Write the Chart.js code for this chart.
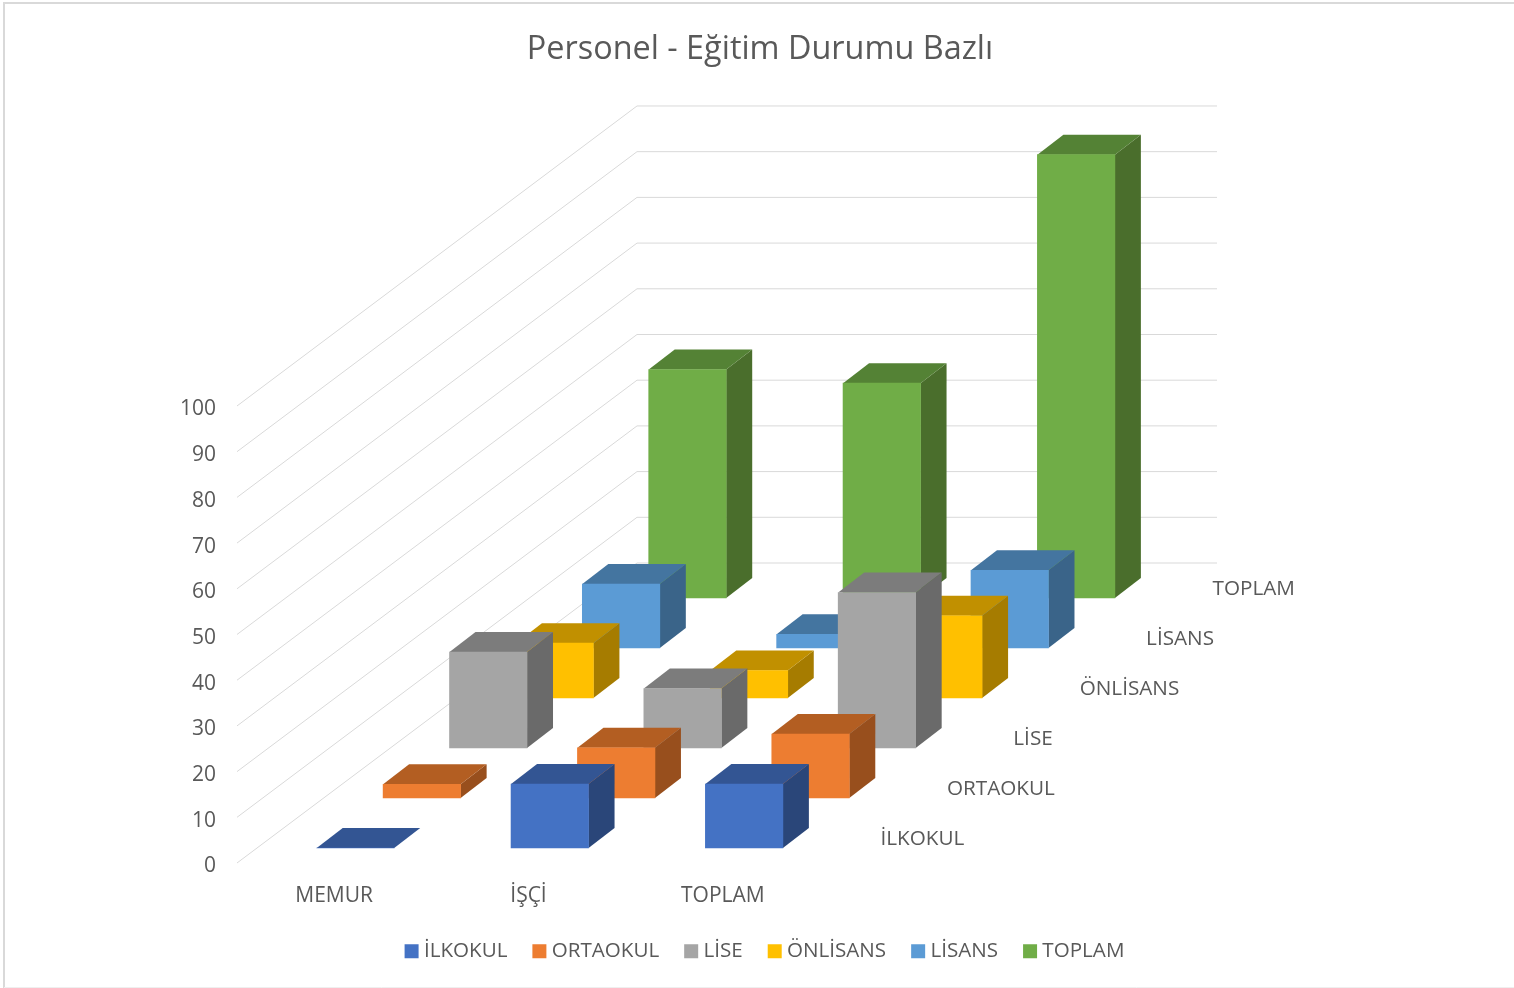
<!DOCTYPE html>
<html lang="tr">
<head>
<meta charset="utf-8">
<title>Personel - Eğitim Durumu Bazlı</title>
<style>html,body{margin:0;padding:0;background:#fff}canvas{display:block}</style>
<script src="https://cdn.jsdelivr.net/npm/chart.js@4"></script>
</head>
<body>
<canvas id="c" width="1514" height="988"></canvas>
<script>
const categories = ['MEMUR', 'İŞÇİ', 'TOPLAM'];
const ilkokul  = [0, 14, 14];
const ortaokul = [3, 11, 14];
const lise     = [21, 13, 34];
const onlisans = [12, 6, 18];
const lisans   = [14, 3, 17];
const toplam   = [50, 47, 97];
const yTicks   = [0, 10, 20, 30, 40, 50, 60, 70, 80, 90, 100];

const FONT = '"Open Sans", "Noto Sans", sans-serif';
const TEXT = '#595959';
const GRID = '#D9D9D9';

// oblique projection
const ROW0 = {x: 21.3, y: 15};     // first row's offset from the floor's front edge
const ROW  = {x: 66.4, y: 50};     // offset between rows
const CUBE = {x: 26, y: 20};       // depth of every bar
const WALL = {x: 400, y: 300, w: 580};
const NAME_X = 880.5, NAME_Y = 839.5; // first depth-axis label

function ds(label, data, front, top, side) {
  return {label, data, backgroundColor: front, topColor: top, sideColor: side,
          borderWidth: 0, grouped: false, barThickness: 77.5, clip: false};
}

const view3d = {
  id: 'view3d',
  afterLayout(chart) {
    chart.titleBlock.left += 3; chart.titleBlock.right += 3;
    chart.legend.left += 10; chart.legend.right += 10;
  },
  beforeDatasetsDraw(chart) {
    const {ctx, scales: {y}, chartArea: a} = chart;
    ctx.save();
    ctx.strokeStyle = GRID; ctx.lineWidth = 1;
    y.ticks.forEach(t => {
      const py = y.getPixelForValue(t.value);
      ctx.beginPath();
      ctx.moveTo(a.left, py);
      ctx.lineTo(a.left + WALL.x, py - WALL.y);
      ctx.lineTo(a.left + WALL.x + WALL.w, py - WALL.y);
      ctx.stroke();
    });
    // frame of the picture
    ctx.strokeStyle = '#D9D9D9'; ctx.lineWidth = 2;
    ctx.beginPath(); ctx.moveTo(4, 988); ctx.lineTo(4, 3); ctx.lineTo(1514, 3); ctx.stroke();
    ctx.strokeStyle = '#EFEFEF'; ctx.lineWidth = 1;
    ctx.beginPath(); ctx.moveTo(4, 987.5); ctx.lineTo(1514, 987.5); ctx.stroke();
    // depth-axis labels
    ctx.fillStyle = TEXT; ctx.font = '20.7px ' + FONT;
    ctx.textAlign = 'left'; ctx.textBaseline = 'middle';
    chart.data.datasets.forEach((d, i) => {
      ctx.fillText(d.label, NAME_X + i * ROW.x, NAME_Y - i * ROW.y);
    });
    ctx.restore();
  },
  beforeDatasetDraw(chart, args) {
    const {ctx} = chart, i = args.index, d = chart.data.datasets[i];
    ctx.save();
    ctx.translate(ROW0.x + i * ROW.x, -(ROW0.y + i * ROW.y));
    args.meta.data.forEach(b => {
      const l = b.x - b.width / 2, r = b.x + b.width / 2, t = b.y, f = b.base;
      ctx.fillStyle = d.sideColor;
      ctx.beginPath();
      ctx.moveTo(r, t); ctx.lineTo(r + CUBE.x, t - CUBE.y);
      ctx.lineTo(r + CUBE.x, f - CUBE.y); ctx.lineTo(r, f);
      ctx.closePath(); ctx.fill();
      ctx.fillStyle = d.topColor;
      ctx.beginPath();
      ctx.moveTo(l, t); ctx.lineTo(r, t);
      ctx.lineTo(r + CUBE.x, t - CUBE.y); ctx.lineTo(l + CUBE.x, t - CUBE.y);
      ctx.closePath(); ctx.fill();
    });
  },
  afterDatasetDraw(chart) { chart.ctx.restore(); }
};

new Chart(document.getElementById('c'), {
  type: 'bar',
  plugins: [view3d],
  data: {
    labels: categories,
    datasets: [
      ds('İLKOKUL',  ilkokul,  '#4472C4', '#335593', '#2A4679'),
      ds('ORTAOKUL', ortaokul, '#ED7D31', '#B35E22', '#984F1D'),
      ds('LİSE',     lise,     '#A5A5A5', '#7C7C7C', '#6A6A6A'),
      ds('ÖNLİSANS', onlisans, '#FFC000', '#C19000', '#A67C00'),
      ds('LİSANS',   lisans,   '#5B9BD5', '#4475A0', '#3A6489'),
      ds('TOPLAM',   toplam,   '#70AD47', '#548235', '#4A6E2C')
    ]
  },
  options: {
    responsive: false,
    animation: false,
    layout: {padding: {bottom: 16.5}},
    plugins: {
      tooltip: {enabled: false},
      title: {
        display: true,
        text: 'Personel - Eğitim Durumu Bazlı',
        color: TEXT,
        font: {family: FONT, size: 32.4, weight: 'normal', lineHeight: 1.2},
        padding: {top: 30, bottom: 337.1}
      },
      legend: {
        position: 'bottom',
        labels: {
          color: TEXT,
          font: {family: FONT, size: 20.6},
          boxWidth: 4, boxHeight: 4, padding: 30,
          generateLabels(chart) {
            return Chart.defaults.plugins.legend.labels.generateLabels(chart)
              .map(it => ({...it, strokeStyle: it.fillStyle, lineWidth: 10}));
          }
        }
      }
    },
    scales: {
      x: {
        offset: true,
        grid: {display: false}, border: {display: false},
        ticks: {color: TEXT, font: {family: FONT, size: 21}, padding: 12.4, maxRotation: 0},
        afterFit(s) { s.height = 47.9; }
      },
      y: {
        min: 0, max: 100,
        afterBuildTicks(s) { s.ticks = yTicks.map(value => ({value})); },
        grid: {display: false}, border: {display: false},
        ticks: {color: TEXT, font: {family: FONT, size: 21}, padding: 13, labelOffset: 3.5},
        afterFit(s) { s.width = 237; }
      },
      spacer: {
        axis: 'y', position: 'right',
        grid: {display: false}, border: {display: false},
        ticks: {display: false},
        afterFit(s) { s.width = 694; }
      }
    }
  }
});
</script>
</body>
</html>
